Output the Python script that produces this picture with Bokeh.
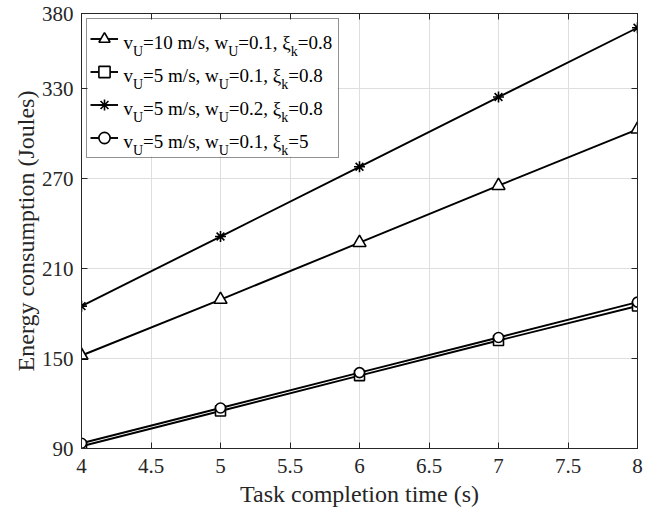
from bokeh.plotting import figure
from bokeh.models import (Range1d, FixedTicker, LinearAxis, Legend, LegendItem,
                          ColumnDataSource, BoxAnnotation, CustomLabelingPolicy)
from bokeh.core.properties import value
from bokeh.embed import file_html
from bokeh.resources import INLINE

# ---------------- data ----------------
task_time = [4, 5, 6, 7, 8]
energy_v10_w01_xi08 = [152.0, 189.3, 227.2, 265.2, 302.8]
energy_v5_w01_xi08 = [91.5, 115.0, 138.6, 162.0, 185.0]
energy_v5_w02_xi08 = [184.9, 231.3, 277.8, 324.3, 370.5]
energy_v5_w01_xi5 = [93.5, 117.0, 140.6, 164.0, 187.6]

x_ticks = [4, 4.5, 5, 5.5, 6, 6.5, 7, 7.5, 8]
x_tick_labels = ["4", "4.5", "5", "5.5", "6", "6.5", "7", "7.5", "8"]
y_ticks = [90, 150, 210, 270, 330, 380]

x_label = "Task completion time (s)"
y_label = "Energy consumption (Joules)"

# legend texts: (main text, subscript) pieces
legend_texts = [
    [("v", "U"), ("=10 m/s, w", "U"), ("=0.1, \u03be", "k"), ("=0.8", "")],
    [("v", "U"), ("=5 m/s, w", "U"), ("=0.1, \u03be", "k"), ("=0.8", "")],
    [("v", "U"), ("=5 m/s, w", "U"), ("=0.2, \u03be", "k"), ("=0.8", "")],
    [("v", "U"), ("=5 m/s, w", "U"), ("=0.1, \u03be", "k"), ("=5", "")],
]

# ---------------- figure ----------------
X_RANGE = (4, 8)
Y_RANGE = (90, 380)
FRAME_W, FRAME_H = 556, 435
FONT = "Liberation Serif"
AX_COL = "#262626"

p = figure(frame_width=FRAME_W, frame_height=FRAME_H,
           x_range=Range1d(*X_RANGE), y_range=Range1d(*Y_RANGE),
           output_backend="svg", toolbar_location=None,
           min_border_left=81, min_border_right=24,
           min_border_top=13, min_border_bottom=58)
p.background_fill_color = "white"
p.border_fill_color = "white"
p.outline_line_color = AX_COL
p.outline_line_width = 1

# labeling policy that shows no tick labels (for the mirrored top/right axes)
no_labels = CustomLabelingPolicy(
    code="const Cls = indices.constructor; return new Cls(indices.size);")

def style_axis(ax, ticks, show_labels=True):
    ax.ticker = FixedTicker(ticks=ticks)
    ax.axis_line_color = AX_COL
    ax.major_tick_line_color = AX_COL
    ax.major_tick_in = 6
    ax.major_tick_out = 0
    ax.minor_tick_in = 0
    ax.minor_tick_out = 0
    ax.major_label_text_font = FONT
    ax.major_label_text_color = AX_COL
    if show_labels:
        ax.major_label_text_font_size = "21px"
    else:
        ax.major_label_text_font_size = "0px"
        ax.major_label_standoff = 0
        ax.major_label_policy = no_labels

style_axis(p.xaxis[0], x_ticks)
p.xaxis[0].major_label_overrides = {t: s for t, s in zip(x_ticks, x_tick_labels)}
p.xaxis[0].major_label_standoff = 10
p.xaxis[0].axis_label = x_label
p.xaxis[0].axis_label_text_font = FONT
p.xaxis[0].axis_label_text_font_size = "24px"
p.xaxis[0].axis_label_text_font_style = "normal"
p.xaxis[0].axis_label_text_color = AX_COL
p.xaxis[0].axis_label_standoff = 5

style_axis(p.yaxis[0], y_ticks)
p.yaxis[0].major_label_standoff = 8
p.yaxis[0].axis_label = y_label
p.yaxis[0].axis_label_text_font = FONT
p.yaxis[0].axis_label_text_font_size = "24px"
p.yaxis[0].axis_label_text_font_style = "normal"
p.yaxis[0].axis_label_text_color = AX_COL
p.yaxis[0].axis_label_standoff = 0

top_ax = LinearAxis()
style_axis(top_ax, x_ticks, show_labels=False)
p.add_layout(top_ax, "above")
right_ax = LinearAxis()
style_axis(right_ax, y_ticks, show_labels=False)
p.add_layout(right_ax, "right")

p.xgrid.grid_line_color = "#dedede"
p.ygrid.grid_line_color = "#dedede"
p.xgrid.grid_line_width = 1
p.ygrid.grid_line_width = 1

# ---------------- helpers: frame pixel offsets -> data units ----------------
def to_x(off):
    return X_RANGE[0] + off * (X_RANGE[1] - X_RANGE[0]) / FRAME_W

def to_y(off):
    return Y_RANGE[1] - off * (Y_RANGE[1] - Y_RANGE[0]) / FRAME_H

# legend geometry (pixels from the frame's top-left)
LG_MARGIN, LG_PAD, LG_GW, LG_ROW, LG_LW, LG_STAND = 5, 3, 28, 33, 213, 4
LG_W = 2 * LG_PAD + LG_GW + LG_STAND + LG_LW
LG_H = 2 * LG_PAD + 4 * LG_ROW

# white legend background (legend itself drawn transparent so texts show)
p.add_layout(BoxAnnotation(left=to_x(LG_MARGIN), right=to_x(LG_MARGIN + LG_W),
                           top=to_y(LG_MARGIN), bottom=to_y(LG_MARGIN + LG_H),
                           fill_color="white", fill_alpha=1.0, line_alpha=0,
                           level="underlay"))

# ---------------- series ----------------
series = [
    (energy_v10_w01_xi08, "triangle", 13),
    (energy_v5_w01_xi08, "square", 10),
    (energy_v5_w02_xi08, "asterisk", 11),
    (energy_v5_w01_xi5, "circle", 10),
]
items = []
for ys, marker, size in series:
    lr = p.line(task_time, ys, line_color="black", line_width=1.9)
    sr = p.scatter(task_time, ys, marker=marker, size=size,
                   line_color="black", line_width=1.6, fill_color="white")
    items.append(LegendItem(label=" ", renderers=[lr, sr]))

legend = Legend(items=items, location="top_left", margin=LG_MARGIN, padding=LG_PAD,
                spacing=0, glyph_width=LG_GW, glyph_height=LG_ROW, label_height=LG_ROW,
                label_width=LG_LW, label_standoff=LG_STAND, label_text_font_size="10px",
                border_line_color=AX_COL, border_line_width=1,
                background_fill_alpha=0.0)
p.add_layout(legend)

# ---------------- legend texts with subscripts ----------------
EM = {" ": 0.25, ",": 0.25, ".": 0.25, "/": 0.278, "=": 0.564, "m": 0.778,
      "s": 0.389, "v": 0.5, "w": 0.722, "U": 0.722, "k": 0.5, "\u03be": 0.44}
for d in "0123456789":
    EM[d] = 0.5

def text_w(s, size):
    return sum(EM.get(c, 0.5) for c in s) * size

MAIN, SUB = 19, 14
main_src = dict(x=[], y=[], text=[])
sub_src = dict(x=[], y=[], text=[])
for i, row in enumerate(legend_texts):
    base = LG_MARGIN + LG_PAD + LG_ROW / 2 + 4.5 + i * LG_ROW
    xo = LG_MARGIN + LG_PAD + LG_GW + LG_STAND + 2
    for main, sub in row:
        main_src["x"].append(to_x(xo)); main_src["y"].append(to_y(base)); main_src["text"].append(main)
        xo += text_w(main, MAIN)
        if sub:
            sub_src["x"].append(to_x(xo)); sub_src["y"].append(to_y(base + 8.5)); sub_src["text"].append(sub)
            xo += text_w(sub, SUB)

p.text(x="x", y="y", text="text", source=ColumnDataSource(main_src),
       text_font=value(FONT), text_font_size="19px", text_color="black",
       text_baseline="alphabetic", text_align="left", level="overlay")
p.text(x="x", y="y", text="text", source=ColumnDataSource(sub_src),
       text_font=value(FONT), text_font_size="14px", text_color="black",
       text_baseline="alphabetic", text_align="left", level="overlay")

open("out.html", "w").write(file_html(p, INLINE))
